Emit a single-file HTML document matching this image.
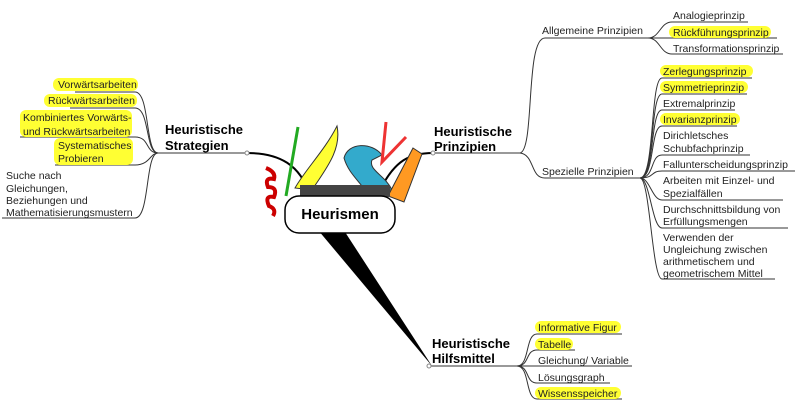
<!DOCTYPE html>
<html><head><meta charset="utf-8"><style>
body{margin:0;background:#fff;width:800px;height:412px;overflow:hidden}
svg{display:block}
text{font-family:"Liberation Sans",Arial,sans-serif;font-size:10.5px;fill:#222}
.b{font-weight:bold;font-size:13px;fill:#000}
.hl{fill:#ffff33}
.l{stroke:#333;stroke-width:1;fill:none}
</style></head><body>
<svg width="800" height="412" viewBox="0 0 800 412">
<!-- main connectors -->
<path d="M247,153 C280,153 300,165 310,195" stroke="#000" stroke-width="2" fill="none"/>
<path d="M433,153 C410,153 395,160 380,190" stroke="#000" stroke-width="2" fill="none"/>
<path d="M318,230 L345,232 L432,366 Z" fill="#000"/>
<!-- knife tools -->
<path d="M266,168 q10,4 8,11 q-10,-2 -6,8 q10,0 6,10 q-10,-2 -5,9 q8,3 4,10" stroke="#c00" stroke-width="4" fill="none"/>
<path d="M298,127 L286,196" stroke="#2a2" stroke-width="3"/>
<path d="M337,126 C325,150 305,170 295,188 L312,190 C325,170 342,150 337,126Z" fill="#ffff33" stroke="#333"/>
<path d="M344,158 C348,142 372,142 382,155 L372,160 C368,170 385,175 392,190 L365,190 C358,180 348,172 344,158Z" fill="#33aacc" stroke="#333"/>
<path d="M386,122 L382,162 L406,137" stroke="#e33" stroke-width="3" fill="none"/>
<path d="M413,148 L422,154 L404,202 L388,196 Z" fill="#ff9922" stroke="#333"/>
<rect x="300" y="185" width="90" height="12" fill="#444"/>
<rect x="285" y="196" width="110" height="37" rx="14" fill="#fff" stroke="#000" stroke-width="1.5"/>
<text x="340" y="219" text-anchor="middle" style="font-size:15px;font-weight:bold;fill:#000">Heurismen</text>

<!-- LEFT -->
<text class="b" x="165" y="134">Heuristische</text>
<text class="b" x="165" y="150">Strategien</text>
<path class="l" d="M158,153 L247,153"/><circle cx="247" cy="153" r="2" fill="#fff" stroke="#888"/>
<path class="l" d="M158,153 C145,153 150,92 135,92 L75,92"/>
<path class="l" d="M158,153 C145,153 150,108 135,108 L70,108"/>
<path class="l" d="M158,153 C145,153 150,137 135,137 L20,137"/>
<path class="l" d="M158,153 C150,153 150,165 135,165 L55,165"/>
<path class="l" d="M158,153 C145,153 150,218 135,218 L2,218"/>
<rect class="hl" x="53" y="78" width="85" height="13" rx="6"/>
<text x="58" y="88">Vorwärtsarbeiten</text>
<rect class="hl" x="44" y="94" width="93" height="13" rx="6"/>
<text x="48" y="104">Rückwärtsarbeiten</text>
<rect class="hl" x="20" y="110" width="112" height="27" rx="6"/>
<text x="23" y="121">Kombiniertes Vorwärts-</text>
<text x="23" y="135">und Rückwärtsarbeiten</text>
<rect class="hl" x="54" y="138" width="79" height="27" rx="6"/>
<text x="58" y="149">Systematisches</text>
<text x="58" y="162">Probieren</text>
<text x="6" y="179">Suche nach</text>
<text x="6" y="192">Gleichungen,</text>
<text x="6" y="204">Beziehungen und</text>
<text x="6" y="216">Mathematisierungsmustern</text>

<!-- RIGHT -->
<text class="b" x="434" y="136">Heuristische</text>
<text class="b" x="434" y="151">Prinzipien</text>
<path class="l" d="M433,153 L520,153"/><circle cx="433" cy="153" r="2" fill="#fff" stroke="#888"/>
<path class="l" d="M520,153 C535,150 525,38 545,38 L648,38"/>
<path class="l" d="M520,153 C535,155 530,178 545,178 L640,178"/>
<text x="542" y="34">Allgemeine Prinzipien</text>
<text x="542" y="175">Spezielle Prinzipien</text>
<path class="l" d="M648,38 C660,38 660,22 672,22 L748,22"/>
<path class="l" d="M648,38 L777,38"/>
<path class="l" d="M648,38 C660,38 660,54 672,54 L783,54"/>
<text x="673" y="19">Analogieprinzip</text>
<rect class="hl" x="669" y="26" width="102" height="12" rx="6"/>
<text x="673" y="36">Rückführungsprinzip</text>
<text x="673" y="52">Transformationsprinzip</text>
<g class="l">
<path d="M640,178 C655,178 650,78 662,78 L752,78"/>
<path d="M640,178 C655,178 650,94 662,94 L747,94"/>
<path d="M640,178 C655,178 650,110 662,110 L735,110"/>
<path d="M640,178 C655,178 650,126 662,126 L737,126"/>
<path d="M640,178 C655,178 650,155 662,155 L750,155"/>
<path d="M640,178 C655,178 650,171 662,171 L795,171"/>
<path d="M640,178 C650,178 652,200 662,200 L783,200"/>
<path d="M640,178 C650,178 652,228 662,228 L788,228"/>
<path d="M640,178 C650,178 652,279 662,279 L775,279"/>
</g>
<rect class="hl" x="660" y="65" width="93" height="12" rx="6"/>
<text x="663" y="75">Zerlegungsprinzip</text>
<rect class="hl" x="660" y="81" width="88" height="12" rx="6"/>
<text x="663" y="91">Symmetrieprinzip</text>
<text x="663" y="107">Extremalprinzip</text>
<rect class="hl" x="660" y="113" width="80" height="12" rx="6"/>
<text x="663" y="123">Invarianzprinzip</text>
<text x="663" y="139">Dirichletsches</text>
<text x="663" y="152">Schubfachprinzip</text>
<text x="663" y="168">Fallunterscheidungsprinzip</text>
<text x="663" y="184">Arbeiten mit Einzel- und</text>
<text x="663" y="197">Spezialfällen</text>
<text x="663" y="213">Durchschnittsbildung von</text>
<text x="663" y="225">Erfüllungsmengen</text>
<text x="663" y="241">Verwenden der</text>
<text x="663" y="253">Ungleichung zwischen</text>
<text x="663" y="265">arithmetischem und</text>
<text x="663" y="277">geometrischem Mittel</text>

<!-- BOTTOM -->
<text class="b" x="432" y="348">Heuristische</text>
<text class="b" x="432" y="363">Hilfsmittel</text>
<path class="l" d="M428,366 L517,366"/><circle cx="429" cy="366" r="2" fill="#fff" stroke="#888"/>
<g class="l">
<path d="M517,366 C530,366 525,334 537,334 L622,334"/>
<path d="M517,366 C530,366 525,350 537,350 L575,350"/>
<path d="M517,366 L632,366"/>
<path d="M517,366 C530,366 525,383 537,383 L610,383"/>
<path d="M517,366 C530,366 525,399 537,399 L622,399"/>
</g>
<rect class="hl" x="535" y="321" width="86" height="12" rx="6"/>
<text x="538" y="331">Informative Figur</text>
<rect class="hl" x="535" y="338" width="38" height="12" rx="6"/>
<text x="538" y="348">Tabelle</text>
<text x="538" y="364">Gleichung/ Variable</text>
<text x="538" y="381">Lösungsgraph</text>
<rect class="hl" x="535" y="387" width="86" height="12" rx="6"/>
<text x="538" y="397">Wissensspeicher</text>
</svg>
</body></html>
